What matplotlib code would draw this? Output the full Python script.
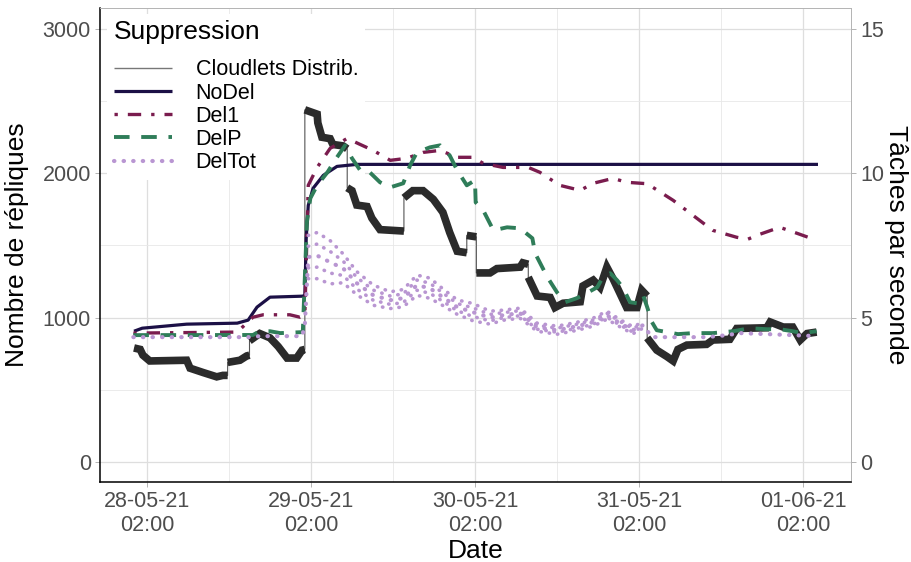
# Replicas and task rate over four days, per deletion strategy
# (Cloudlets Distrib. is the task rate read on the right axis x200)

# load Libraries
#------------------------------------------------------------------------------
import numpy as np
import pandas as pd
import matplotlib
matplotlib.use('Agg')
import matplotlib.pyplot as plt
import matplotlib.dates as mdates
from matplotlib.lines import Line2D
#------------------------------------------------------------------------------

# set global plt parameters
#------------------------------------------------------------------------------
plt.rcParams['font.family'] = ['Liberation Sans', 'DejaVu Sans']
plt.rcParams['axes.axisbelow'] = True
plt.rcParams['lines.solid_capstyle'] = 'butt'
#------------------------------------------------------------------------------

# data (hours since 28-05-21 00:00, number of replicas)
#------------------------------------------------------------------------------
cloud_hours = [0.1, 1.0, 1.4, 2.4, 7.8, 8.3, 10.2, 12.2, 13.1, 13.8,
               13.8, 15.6, 16.6, 17.0,
               17.0, 18.5, 20.0, 21.2, 22.5, 23.9, 24.7, 25.1,
               25.1, 26.9, 27.0, 27.6, 28.8, 29.2, 30.7, 31.3,
               31.3, 32.0, 32.7, 34.2, 34.9, 36.1, 39.6,
               39.6, 40.9, 42.4, 43.9, 45.3, 46.3, 47.4, 48.8,
               48.8, 50.2,
               50.2, 52.2, 53.2, 56.6, 57.0, 57.8,
               57.8, 59.1, 61.0, 61.7, 62.9, 65.4, 65.8, 67.3, 68.3, 69.3,
               70.2, 71.2, 72.2, 73.7, 74.4, 75.2,
               75.2, 76.6, 78.1, 79.0, 79.7, 81.0, 83.9, 84.8, 87.3, 88.3,
               92.7, 93.2, 95.1, 96.5, 97.6, 98.6, 100.0]
cloud_values = [790, 780, 740, 700, 705, 650, 620, 590, 600, 600,
                690, 705, 735, 740,
                840, 890, 860, 800, 720, 720, 775, 780,
                2440, 2410, 2350, 2250, 2240, 2200, 2190, 2170,
                1900, 1880, 1780, 1770, 1690, 1610, 1600,
                1830, 1880, 1880, 1820, 1730, 1590, 1460, 1450,
                1570, 1560,
                1310, 1310, 1340, 1350, 1380, 1370,
                1280, 1150, 1140, 1070, 1100, 1110, 1220, 1260, 1210, 1350,
                1270, 1170, 1070, 1070, 1190, 1150,
                860, 775, 730, 700, 780, 810, 815, 845, 850, 925,
                930, 970, 935, 935, 845, 890, 900]

nodel_hours = [0.1, 1.3, 7.8, 15.2, 16.8, 18.1, 20.0, 24.8, 25.1, 25.3,
               25.6, 26.3, 27.8, 29.8, 32.7, 100.2]
nodel_values = [906, 927, 955, 962, 983, 1073, 1142, 1149, 1156, 1550,
                1778, 1896, 1986, 2048, 2062, 2062]

del1_hours = [0.0, 15.2, 17.5, 19.0, 22.9, 24.4, 25.1, 25.6, 26.9, 28.8,
              31.3, 33.2, 35.1, 37.6, 40.0, 42.4, 44.9, 47.4, 49.7, 51.2,
              54.1, 57.8, 59.5, 62.4, 65.4, 67.3, 70.2, 72.2, 75.2, 79.0,
              81.9, 84.8, 88.3, 89.9, 91.7, 94.6, 97.1, 100.0]
del1_values = [893, 900, 1003, 1020, 1020, 1003, 1017, 1917, 2041, 2173,
               2242, 2200, 2159, 2090, 2104, 2145, 2159, 2111, 2111, 2069,
               2041, 2041, 2007, 1917, 1882, 1931, 1965, 1938, 1928, 1813,
               1709, 1605, 1557, 1543, 1578, 1626, 1585, 1536]

delp_hours = [0.0, 17.5, 18.5, 20.0, 21.5, 24.8, 25.4, 25.9, 26.9, 28.4,
              29.8, 31.0, 32.0, 33.2, 34.3, 36.1, 37.6, 39.5, 40.5, 41.5,
              43.4, 44.9, 46.3, 47.4, 48.8, 50.0, 50.1, 51.2, 52.7, 54.7,
              56.6, 58.4, 58.8, 60.6, 62.0, 63.2, 64.9, 65.8, 67.9, 68.7,
              69.8, 70.8, 71.6, 72.7, 73.7, 74.6, 75.2, 75.9, 76.6, 79.7,
              81.9, 84.8, 87.8, 90.2, 92.7, 94.6, 96.5, 98.0, 100.0]
delp_values = [879, 880, 906, 906, 893, 900, 1661, 1827, 1917, 2007,
               2111, 2194, 2104, 2021, 2021, 1938, 1903, 1931, 2055, 2145,
               2180, 2194, 2124, 2021, 1917, 1952, 1799, 1744, 1605, 1626,
               1619, 1550, 1446, 1280, 1176, 1107, 1135, 1156, 1211, 1280,
               1308, 1259, 1211, 1107, 1100, 1156, 1073, 969, 913, 886,
               893, 893, 906, 927, 920, 920, 906, 893, 906]

# DelTot is a cloud of points: centre and half spread
deltot_hours = [0.0, 17.0, 18.5, 24.7, 25.1, 25.6, 26.9, 28.8, 30.7, 32.7,
                35.1, 37.6, 39.5, 41.5, 43.4, 45.3, 47.4, 49.7, 52.2, 54.1,
                56.6, 59.1, 62.0, 65.0, 67.3, 69.3, 71.2, 73.1, 74.6, 75.9,
                78.1, 83.9, 86.9, 88.8, 92.7, 96.5, 100.0]
deltot_values = [865, 865, 872, 872, 950, 1420, 1430, 1384, 1342, 1239,
                 1156, 1121, 1135, 1225, 1204, 1142, 1073, 1038, 1000, 1017,
                 1031, 934, 913, 941, 969, 1017, 962, 913, 948, 865,
                 865, 865, 879, 893, 886, 879, 872]
deltot_spread = [0, 0, 0, 0, 0, 150, 160, 150, 100, 80,
                 70, 58, 60, 70, 70, 58, 50, 60, 45, 35,
                 35, 28, 28, 28, 28, 28, 25, 25, 20, 10,
                 5, 5, 5, 5, 5, 5, 5]

tick_hours = [2, 26, 50, 74, 98]
minor_hours = [14, 38, 62, 86]
#------------------------------------------------------------------------------

# colors and names
#------------------------------------------------------------------------------
c_cloud = '#2b2b2b'
c_nodel = '#1c1046'
c_del1 = '#7a1c4e'
c_delp = '#2f7d59'
c_deltot = '#b996d2'
series_names = ['Cloudlets Distrib.', 'NoDel', 'Del1', 'DelP', 'DelTot']

base = pd.Timestamp('2021-05-28 00:00')


def to_time(hours):
    return base + pd.to_timedelta(np.asarray(hours, dtype=float), unit='h')
#------------------------------------------------------------------------------

fig = plt.figure(figsize=(9.12, 5.62), dpi=100)
ax = fig.add_axes([0.10965, 0.14235, 0.82346, 0.84342])

# Cloudlets Distrib.: thin line everywhere, thick band on the plateaus
ax.plot(to_time(cloud_hours), cloud_values, color='#555555', lw=0.8, zorder=2)
start = 0
for i in range(1, len(cloud_hours) + 1):
    if i == len(cloud_hours) or cloud_hours[i] == cloud_hours[i - 1]:
        ax.plot(to_time(cloud_hours[start:i]), cloud_values[start:i],
                color=c_cloud, lw=5.5, solid_joinstyle='miter', zorder=2.1)
        start = i

ax.plot(to_time(nodel_hours), nodel_values, color=c_nodel, lw=2.3, zorder=3)
ax.plot(to_time(del1_hours), del1_values, color=c_del1, lw=2.4,
        linestyle=(0, (1, 3, 4, 3)), zorder=3.1)
ax.plot(to_time(delp_hours), delp_values, color=c_delp, lw=2.8,
        linestyle=(0, (4, 3)), zorder=3.2)

tot_c = np.array(deltot_values, dtype=float)
tot_s = np.array(deltot_spread, dtype=float)
tot_s = np.where(tot_s >= 20, tot_s, np.nan)
dotted = dict(color=c_deltot, linestyle=(0, (0.1, 2.2)),
              dash_capstyle='round', zorder=3.3)
ax.plot(to_time(deltot_hours), tot_c, lw=3.0, **dotted)
ax.plot(to_time(deltot_hours), tot_c + tot_s, lw=2.6, **dotted)
ax.plot(to_time(deltot_hours), tot_c - tot_s, lw=2.6, **dotted)
ax.plot(to_time(deltot_hours), tot_c + tot_s / 2, lw=2.6, **dotted)
ax.plot(to_time(deltot_hours), tot_c - tot_s / 2, lw=2.6, **dotted)

# axes
ax.set_xlim(to_time([-4.88])[0], to_time([105.03])[0])
ax.set_ylim(-138.6, 3145.5)
ax.set_xticks(to_time(tick_hours))
ax.set_xticks(to_time(minor_hours), minor=True)
ax.xaxis.set_major_formatter(mdates.DateFormatter('%d-%m-%y\n%H:%M'))
ax.set_yticks([0, 1000, 2000, 3000])
ax.set_yticks([500, 1500, 2500], minor=True)

ax.grid(which='major', color='#dedede', lw=0.9)
ax.grid(which='minor', color='#e8e8e8', lw=0.6)
ax.tick_params(which='major', length=3.5, width=0.7, color='#b3b3b3',
               labelcolor='#4d4d4d', labelsize=15.5, pad=3)
ax.tick_params(which='minor', length=0)

for side in ['left', 'bottom']:
    ax.spines[side].set_color('black')
    ax.spines[side].set_linewidth(1.1)
ax.spines['top'].set_color('#b3b3b3')
ax.spines['top'].set_linewidth(0.7)
ax.spines['right'].set_visible(False)

ax.set_xlabel('Date', fontsize=19, labelpad=2)
ax.set_ylabel('Nombre de répliques', fontsize=19, labelpad=10)

sec = ax.secondary_yaxis('right', functions=(lambda v: v / 200, lambda v: v * 200))
sec.set_yticks([0, 5, 10, 15])
sec.spines['right'].set_color('#b3b3b3')
sec.spines['right'].set_linewidth(0.7)
sec.tick_params(length=3.5, width=0.7, color='#b3b3b3',
                labelcolor='#4d4d4d', labelsize=15.5, pad=3)
sec.set_ylabel('Tâches par seconde', fontsize=19, rotation=270,
               va='bottom', labelpad=0)

# legend
custom_lines = [Line2D([0], [0], color='#777777', lw=1),
                Line2D([0], [0], color=c_nodel, lw=2.3),
                Line2D([0], [0], color=c_del1, lw=2.4, linestyle=(0, (1, 3, 4, 3))),
                Line2D([0], [0], color=c_delp, lw=2.8, linestyle=(0, (4, 3))),
                Line2D([0], [0], color=c_deltot, lw=3.0, linestyle=(0, (0.1, 2.2)),
                       dash_capstyle='round')]
leg = ax.legend(custom_lines, series_names, title='Suppression',
                loc='upper left', bbox_to_anchor=(0.004, 0.997), alignment='left',
                fontsize=15.5, title_fontsize=19, frameon=True,
                facecolor='white', edgecolor='none', framealpha=1,
                handlelength=2.7, handletextpad=1.1, labelspacing=0.1,
                borderpad=0.3, borderaxespad=0.2)
leg._legend_box.sep = 11  # gap between title and entries
leg.set_zorder(1.5)

fig.savefig('out.png', dpi=100)
